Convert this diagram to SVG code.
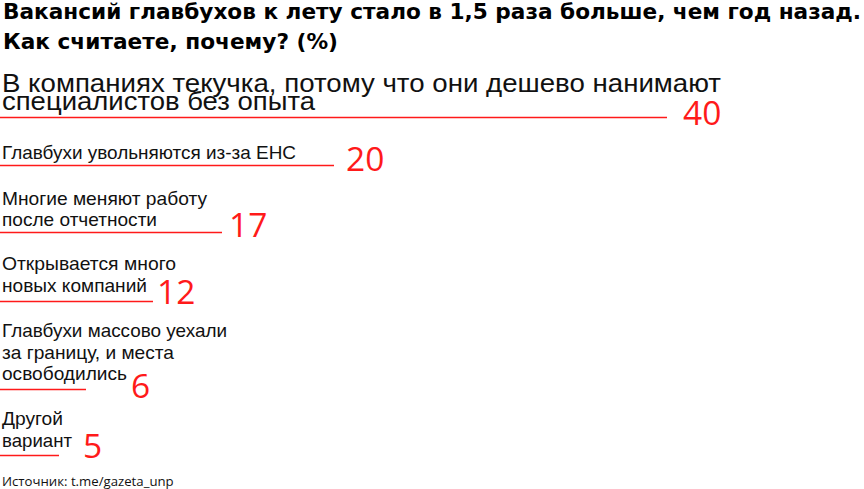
<svg xmlns="http://www.w3.org/2000/svg" width="864" height="489" viewBox="0 0 864 489">
<style>
.title{font-family:"DejaVu Sans","Liberation Sans",sans-serif;font-weight:bold;font-size:20.5px;fill:#000}
.big{font-family:"Liberation Sans",Arial,sans-serif;font-size:25px;fill:#111}
.lbl{font-family:"Liberation Sans",Arial,sans-serif;font-size:18.5px;fill:#111}
.num{font-family:"Open Sans","Noto Sans",sans-serif;font-size:33.5px;fill:#ff1a1a}
.bar{stroke:#ff1a1a;stroke-width:1.6;fill:none}
.src{font-family:"Open Sans","Noto Sans",sans-serif;font-size:13.2px;fill:#111}
</style>
<rect width="864" height="489" fill="#fff"/>
<g id="title">
<text class="title" x="3" y="19" textLength="858" lengthAdjust="spacingAndGlyphs">Вакансий главбухов к лету стало в 1,5 раза больше, чем год назад.</text>
<text class="title" x="3" y="48.5" textLength="335" lengthAdjust="spacingAndGlyphs">Как считаете, почему? (%)</text>
</g>
<g id="connectors">
<line class="bar" x1="0" y1="117.5" x2="667" y2="117.5"/>
<line class="bar" x1="0" y1="165.5" x2="334" y2="165.5"/>
<line class="bar" x1="0" y1="232.5" x2="222" y2="232.5"/>
<line class="bar" x1="0" y1="301.5" x2="153" y2="301.5"/>
<line class="bar" x1="0" y1="389.5" x2="86" y2="389.5"/>
<line class="bar" x1="0" y1="455.5" x2="59" y2="455.5"/>
</g>
<g id="item1">
<text class="big" x="2" y="92" textLength="719" lengthAdjust="spacingAndGlyphs">В компаниях текучка, потому что они дешево нанимают</text>
<text class="big" x="2" y="110" textLength="313" lengthAdjust="spacingAndGlyphs">специалистов без опыта</text>
<text class="num" x="683" y="124.5">40</text>
</g>
<g id="item2">
<text class="lbl" x="2" y="159" textLength="294" lengthAdjust="spacingAndGlyphs">Главбухи увольняются из-за ЕНС</text>
<text class="num" x="346" y="170.5">20</text>
</g>
<g id="item3">
<text class="lbl" x="2" y="205" textLength="205" lengthAdjust="spacingAndGlyphs">Многие меняют работу</text>
<text class="lbl" x="2" y="226" textLength="155" lengthAdjust="spacingAndGlyphs">после отчетности</text>
<text class="num" x="229" y="236.5">17</text>
</g>
<g id="item4">
<text class="lbl" x="2" y="270" textLength="174" lengthAdjust="spacingAndGlyphs">Открывается много</text>
<text class="lbl" x="2" y="292" textLength="145" lengthAdjust="spacingAndGlyphs">новых компаний</text>
<text class="num" x="157" y="303.5">12</text>
</g>
<g id="item5">
<text class="lbl" x="2" y="337" textLength="225" lengthAdjust="spacingAndGlyphs">Главбухи массово уехали</text>
<text class="lbl" x="2" y="359" textLength="172" lengthAdjust="spacingAndGlyphs">за границу, и места</text>
<text class="lbl" x="2" y="380" textLength="125" lengthAdjust="spacingAndGlyphs">освободились</text>
<text class="num" x="131" y="397.5">6</text>
</g>
<g id="item6">
<text class="lbl" x="2" y="425" textLength="61" lengthAdjust="spacingAndGlyphs">Другой</text>
<text class="lbl" x="2" y="447" textLength="70" lengthAdjust="spacingAndGlyphs">вариант</text>
<text class="num" x="83" y="457.5">5</text>
</g>
<g id="source">
<text class="src" x="2" y="486">Источник: t.me/gazeta_unp</text>
</g>
</svg>
